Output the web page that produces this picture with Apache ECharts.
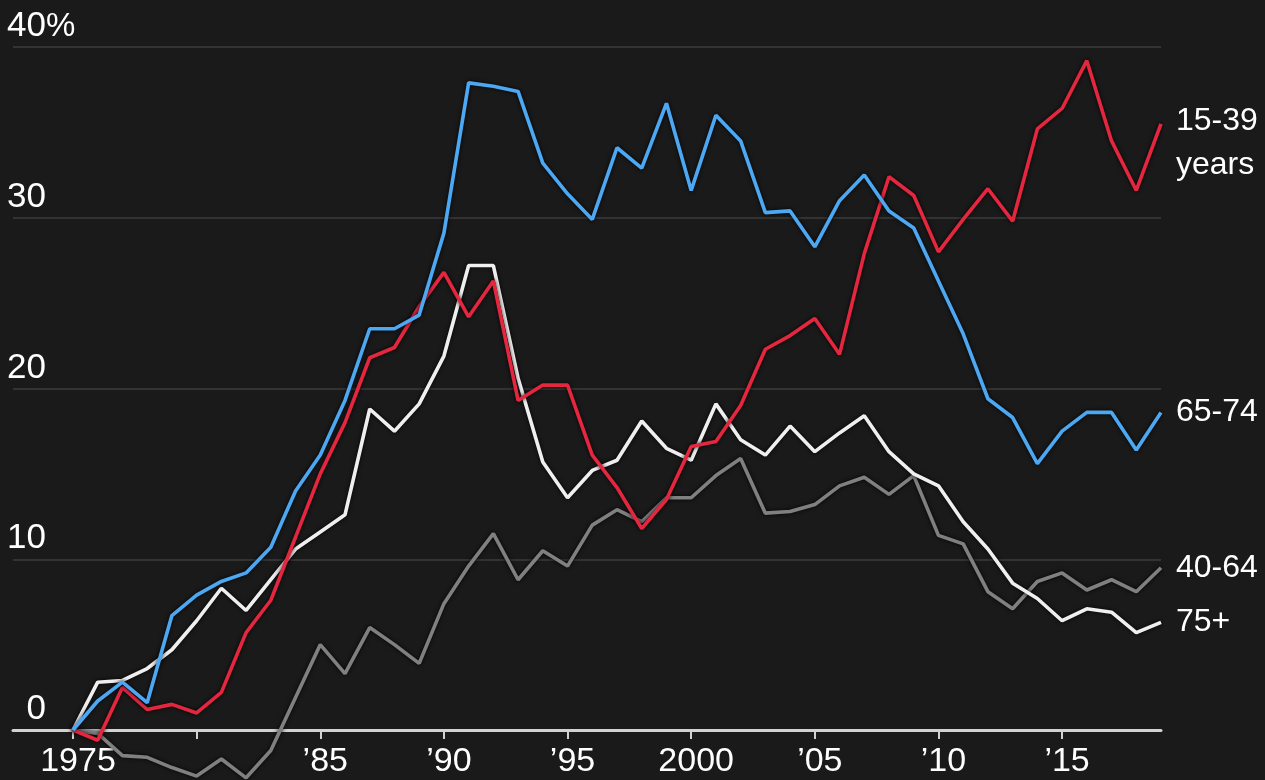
<!DOCTYPE html>
<html>
<head>
<meta charset="utf-8">
<script src="https://cdn.jsdelivr.net/npm/echarts@6/dist/echarts.min.js"></script>
<style>
  html, body { margin: 0; padding: 0; background: #1b1a1b; }
  #chart { width: 1265px; height: 780px; }
</style>
</head>
<body>
<div id="chart"></div>
<script>
var years = [1975, 1976, 1977, 1978, 1979, 1980, 1981, 1982, 1983, 1984,
             1985, 1986, 1987, 1988, 1989, 1990, 1991, 1992, 1993, 1994,
             1995, 1996, 1997, 1998, 1999, 2000, 2001, 2002, 2003, 2004,
             2005, 2006, 2007, 2008, 2009, 2010, 2011, 2012, 2013, 2014,
             2015, 2016, 2017, 2018, 2019];

// percent change since 1975, by age group
var ages15_39 = [0, -0.6, 2.5, 1.2, 1.5, 1.0, 2.2, 5.7, 7.6, 11.3,
                 15.0, 18.0, 21.8, 22.4, 24.8, 26.8, 24.2, 26.3, 19.3, 20.2,
                 20.2, 16.1, 14.2, 11.8, 13.5, 16.6, 16.9, 19.0, 22.3, 23.1,
                 24.1, 22.0, 27.9, 32.4, 31.3, 28.0, 29.9, 31.7, 29.8, 35.2,
                 36.4, 39.2, 34.5, 31.6, 35.5];
var ages65_74 = [0, 1.7, 2.8, 1.6, 6.7, 7.9, 8.7, 9.2, 10.7, 14.0,
                 16.1, 19.3, 23.5, 23.5, 24.3, 29.1, 37.9, 37.7, 37.4, 33.2,
                 31.4, 29.9, 34.1, 32.9, 36.7, 31.6, 36.0, 34.5, 30.3, 30.4,
                 28.3, 31.0, 32.5, 30.4, 29.4, 26.3, 23.2, 19.4, 18.3, 15.6,
                 17.5, 18.6, 18.6, 16.4, 18.6];
var ages40_64 = [0, -0.2, -1.5, -1.6, -2.2, -2.7, -1.7, -2.8, -1.2, 1.9,
                 5.0, 3.3, 6.0, 5.0, 3.9, 7.4, 9.6, 11.5, 8.8, 10.5,
                 9.6, 12.0, 12.9, 12.2, 13.6, 13.6, 14.9, 15.9, 12.7, 12.8,
                 13.2, 14.3, 14.8, 13.8, 14.9, 11.4, 10.9, 8.1, 7.1, 8.7,
                 9.2, 8.2, 8.8, 8.1, 9.5];
var ages75plus = [0, 2.8, 2.9, 3.6, 4.7, 6.4, 8.3, 7.0, 8.8, 10.6,
                  11.6, 12.6, 18.8, 17.5, 19.1, 21.9, 27.2, 27.2, 20.6, 15.7,
                  13.6, 15.2, 15.8, 18.1, 16.5, 15.8, 19.1, 17.0, 16.1, 17.8,
                  16.3, 17.4, 18.4, 16.3, 15.0, 14.3, 12.2, 10.6, 8.6, 7.7,
                  6.4, 7.1, 6.9, 5.7, 6.3];

var xTicks = [1975, 1980, 1985, 1990, 1995, 2000, 2005, 2010, 2015];
var xLabels = [1975, 1985, 1990, 1995, 2000, 2005, 2010, 2015];

var FONT = '"Liberation Sans", Arial, sans-serif';

function pairs(vals) {
  return years.map(function (y, i) { return [y, vals[i]]; });
}

function makeSeries(name, label, vals, color, z, extra) {
  var s = {
    name: name,
    type: 'line',
    data: pairs(vals),
    showSymbol: false,
    clip: false,
    z: z,
    lineStyle: {
      color: color,
      width: 3.6,
      shadowColor: 'rgba(0,0,0,0.9)',
      shadowBlur: 4
    },
    endLabel: {
      show: true,
      formatter: label,
      color: '#ffffff',
      fontFamily: FONT,
      fontSize: 32,
      lineHeight: 44,
      distance: 15
    }
  };
  if (extra) Object.assign(s.endLabel, extra);
  return s;
}

var myChart = echarts.init(document.getElementById('chart'));
var option = {
  backgroundColor: '#1b1a1b',
  animation: false,
  grid: {
    left: 13,
    right: 104,
    top: 47,
    bottom: 50,
    outerBoundsMode: 'none'
  },
  xAxis: {
    type: 'value',
    min: 1972.574,
    max: 2019,
    axisLine: {
      lineStyle: { color: '#d2d2d2', width: 3 }
    },
    axisTick: {
      show: true,
      customValues: xTicks,
      length: 9,
      lineStyle: { color: '#d2d2d2', width: 2 }
    },
    axisLabel: {
      customValues: xLabels,
      margin: 15,
      padding: [0, 0, 0, 10],
      color: '#ffffff',
      fontFamily: FONT,
      fontSize: 34,
      formatter: function (v) {
        if (v === 1975 || v === 2000) return String(v);
        return '\u2019' + String(v).slice(2);
      }
    },
    splitLine: { show: false }
  },
  yAxis: {
    type: 'value',
    min: 0,
    max: 40,
    interval: 10,
    axisLine: { show: false },
    axisTick: { show: false },
    axisLabel: {
      inside: true,
      align: 'right',
      verticalAlign: 'bottom',
      margin: 33,
      padding: [0, 0, 3, 0],
      color: '#ffffff',
      fontFamily: FONT,
      fontSize: 35,
      formatter: function (v) {
        return v === 40 ? '{n|40}{p|%}' : '{n|' + v + '}';
      },
      rich: {
        n: { align: 'left', color: '#ffffff', fontFamily: FONT, fontSize: 35 },
        p: { align: 'left', width: 0, color: '#ffffff', fontFamily: FONT, fontSize: 33 }
      }
    },
    splitLine: {
      show: true,
      lineStyle: { color: '#3e3d3e', width: 1.5 }
    }
  },
  series: [
    makeSeries('40-64', '40-64', ages40_64, '#808080', 2),
    makeSeries('75+', '75+', ages75plus, '#efefef', 3),
    makeSeries('15-39 years', '15-39\nyears', ages15_39, '#e5263f', 4, { offset: [0, 19] }),
    makeSeries('65-74', '65-74', ages65_74, '#4ca8f2', 5)
  ]
};
myChart.setOption(option);
</script>
</body>
</html>
